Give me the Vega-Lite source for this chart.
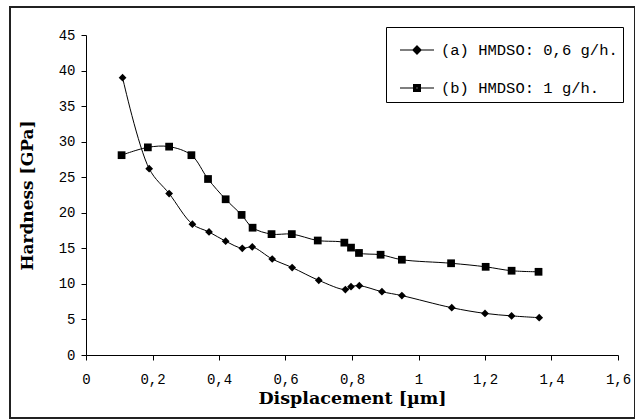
{
  "$schema": "https://vega.github.io/schema/vega-lite/v6.json",
  "autosize": "none",
  "width": 532,
  "height": 320,
  "padding": {"left": 86, "top": 35, "right": 17, "bottom": 64},
  "background": "white",
  "config": {
    "view": {"stroke": null},
    "font": "DejaVu Serif"
  },
  "data": {
    "values": [
      {"series": "(a) HMDSO: 0,6 g/h.", "d": 0.110, "h": 39.0},
      {"series": "(a) HMDSO: 0,6 g/h.", "d": 0.190, "h": 26.2},
      {"series": "(a) HMDSO: 0,6 g/h.", "d": 0.250, "h": 22.7},
      {"series": "(a) HMDSO: 0,6 g/h.", "d": 0.320, "h": 18.4},
      {"series": "(a) HMDSO: 0,6 g/h.", "d": 0.370, "h": 17.3},
      {"series": "(a) HMDSO: 0,6 g/h.", "d": 0.420, "h": 16.0},
      {"series": "(a) HMDSO: 0,6 g/h.", "d": 0.470, "h": 15.0},
      {"series": "(a) HMDSO: 0,6 g/h.", "d": 0.500, "h": 15.2},
      {"series": "(a) HMDSO: 0,6 g/h.", "d": 0.560, "h": 13.5},
      {"series": "(a) HMDSO: 0,6 g/h.", "d": 0.620, "h": 12.3},
      {"series": "(a) HMDSO: 0,6 g/h.", "d": 0.700, "h": 10.5},
      {"series": "(a) HMDSO: 0,6 g/h.", "d": 0.780, "h": 9.2},
      {"series": "(a) HMDSO: 0,6 g/h.", "d": 0.797, "h": 9.6},
      {"series": "(a) HMDSO: 0,6 g/h.", "d": 0.822, "h": 9.75},
      {"series": "(a) HMDSO: 0,6 g/h.", "d": 0.890, "h": 8.9},
      {"series": "(a) HMDSO: 0,6 g/h.", "d": 0.950, "h": 8.35},
      {"series": "(a) HMDSO: 0,6 g/h.", "d": 1.100, "h": 6.65},
      {"series": "(a) HMDSO: 0,6 g/h.", "d": 1.200, "h": 5.85},
      {"series": "(a) HMDSO: 0,6 g/h.", "d": 1.280, "h": 5.5},
      {"series": "(a) HMDSO: 0,6 g/h.", "d": 1.363, "h": 5.25},
      {"series": "(b) HMDSO: 1 g/h.", "d": 0.107, "h": 28.1},
      {"series": "(b) HMDSO: 1 g/h.", "d": 0.186, "h": 29.2},
      {"series": "(b) HMDSO: 1 g/h.", "d": 0.250, "h": 29.3},
      {"series": "(b) HMDSO: 1 g/h.", "d": 0.317, "h": 28.1},
      {"series": "(b) HMDSO: 1 g/h.", "d": 0.367, "h": 24.75},
      {"series": "(b) HMDSO: 1 g/h.", "d": 0.420, "h": 21.9},
      {"series": "(b) HMDSO: 1 g/h.", "d": 0.468, "h": 19.7},
      {"series": "(b) HMDSO: 1 g/h.", "d": 0.501, "h": 17.9},
      {"series": "(b) HMDSO: 1 g/h.", "d": 0.558, "h": 17.0},
      {"series": "(b) HMDSO: 1 g/h.", "d": 0.619, "h": 17.0},
      {"series": "(b) HMDSO: 1 g/h.", "d": 0.697, "h": 16.1},
      {"series": "(b) HMDSO: 1 g/h.", "d": 0.777, "h": 15.8},
      {"series": "(b) HMDSO: 1 g/h.", "d": 0.797, "h": 15.1},
      {"series": "(b) HMDSO: 1 g/h.", "d": 0.821, "h": 14.35},
      {"series": "(b) HMDSO: 1 g/h.", "d": 0.886, "h": 14.1},
      {"series": "(b) HMDSO: 1 g/h.", "d": 0.950, "h": 13.4},
      {"series": "(b) HMDSO: 1 g/h.", "d": 1.098, "h": 12.9},
      {"series": "(b) HMDSO: 1 g/h.", "d": 1.202, "h": 12.4},
      {"series": "(b) HMDSO: 1 g/h.", "d": 1.280, "h": 11.85},
      {"series": "(b) HMDSO: 1 g/h.", "d": 1.361, "h": 11.7}
    ]
  },
  "encoding": {
    "x": {
      "field": "d",
      "type": "quantitative",
      "scale": {"domain": [0, 1.6], "nice": false, "zero": false},
      "axis": {
        "title": "Displacement [µm]",
        "values": [0, 0.2, 0.4, 0.6, 0.8, 1, 1.2, 1.4, 1.6],
        "labelExpr": "replace(format(datum.value, '~g'), '.', ',')",
        "grid": false,
        "domainColor": "black",
        "tickColor": "black",
        "tickSize": 5,
        "labelPadding": 12,
        "labelFont": "Liberation Mono",
        "labelFontSize": 14,
        "labelColor": "black",
        "labelFlush": false,
        "titleFont": "DejaVu Serif",
        "titleFontSize": 17.5,
        "titleFontWeight": "bold",
        "titleColor": "black",
        "titlePadding": 3
      }
    },
    "y": {
      "field": "h",
      "type": "quantitative",
      "scale": {"domain": [0, 45], "nice": false},
      "axis": {
        "title": "Hardness [GPa]",
        "values": [0, 5, 10, 15, 20, 25, 30, 35, 40, 45],
        "grid": false,
        "domainColor": "black",
        "tickColor": "black",
        "tickSize": 5,
        "labelPadding": 6,
        "labelFont": "Liberation Mono",
        "labelFontSize": 14,
        "labelColor": "black",
        "labelFlush": false,
        "titleFont": "DejaVu Serif",
        "titleFontSize": 17,
        "titleFontWeight": "bold",
        "titleColor": "black",
        "titlePadding": 22
      }
    }
  },
  "layer": [
    {
      "mark": {
        "type": "rect",
        "fill": null,
        "stroke": "#222",
        "strokeWidth": 1.5,
        "clip": false
      },
      "encoding": {
        "x": {"datum": -0.2286},
        "x2": {"datum": 1.652},
        "y": {"datum": 48.94},
        "y2": {"datum": -8.86}
      }
    },
    {
      "mark": {"type": "line", "interpolate": "catmull-rom", "color": "black", "strokeWidth": 1},
      "encoding": {"detail": {"field": "series"}}
    },
    {
      "mark": {"type": "point", "filled": true, "color": "black", "opacity": 1, "size": 60},
      "encoding": {
        "shape": {
          "field": "series",
          "type": "nominal",
          "scale": {"range": ["diamond", "square"]},
          "legend": null
        }
      }
    },
    {
      "mark": {"type": "point", "filled": false, "color": "black", "strokeWidth": 1, "opacity": 0},
      "encoding": {
        "shape": {
          "field": "series",
          "type": "nominal",
          "scale": {"range": [
            "M-1,0H1M0,-0.24L0.24,0L0,0.24L-0.24,0ZM0,-0.18L0.18,0L0,0.18L-0.18,0ZM0,-0.12L0.12,0L0,0.12L-0.12,0ZM0,-0.06L0.06,0L0,0.06L-0.06,0Z",
            "M-1,0H1M-0.2,-0.2H0.2V0.2H-0.2ZM-0.14,-0.14H0.14V0.14H-0.14ZM-0.08,-0.08H0.08V0.08H-0.08Z"
          ]},
          "legend": {
            "title": null,
            "orient": "none",
            "legendX": 300,
            "legendY": -8,
            "strokeColor": "black",
            "fillColor": "white",
            "padding": 5,
            "rowPadding": 11,
            "symbolOffset": 8,
            "symbolSize": 1156,
            "symbolOpacity": 1,
            "symbolStrokeColor": "black",
            "symbolStrokeWidth": 1.2,
            "labelFont": "Liberation Mono",
            "labelFontSize": 15.5,
            "labelColor": "black",
            "labelOffset": 6,
            "labelLimit": 400
          }
        }
      }
    }
  ],
  "resolve": {"scale": {"shape": "independent"}, "legend": {"shape": "independent"}}
}
